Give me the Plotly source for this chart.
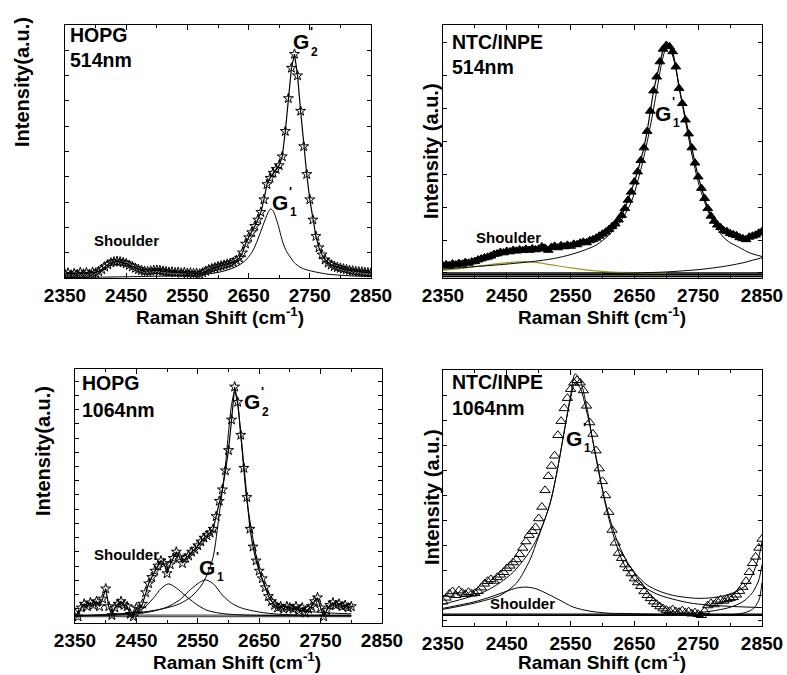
import plotly.graph_objects as go

W, H = 787, 675

# ---------------- Panel 1: HOPG 514 nm ----------------
hopg514_x = list(range(2350, 2851, 5))
hopg514_y = [1.5, 2.0, 1.2, 1.8, 1.4, 2.2, 1.6, 2.1, 1.5, 2.3,
             2.0, 2.6, 3.4, 4.4, 5.3, 6.0, 6.4, 6.6, 6.4, 6.1,
             5.7, 5.1, 4.5, 3.9, 3.4, 3.0, 2.7, 2.6, 2.8, 3.0,
             3.1, 3.0, 2.7, 2.5, 2.3, 2.4, 2.1, 2.3, 2.0, 2.2,
             1.9, 2.0, 1.8, 1.9, 1.6, 2.1, 2.7, 3.3, 3.7, 4.1,
             4.5, 4.8, 5.1, 5.5, 5.8, 6.2, 7.0, 7.9, 10.0, 13.5,
             16.0, 18.0, 20.5, 23.0, 26.0, 31.0, 37.0, 39.5, 41.5, 43.0,
             44.5, 48.0, 58.0, 71.0, 83.0, 88.5, 80.0, 66.0, 52.0, 41.0,
             31.0, 23.0, 16.5, 12.0, 9.2, 7.2, 6.0, 5.2, 4.6, 4.2,
             3.9, 3.6, 3.3, 3.0, 2.8, 2.6, 2.5, 2.4, 2.2, 2.1, 2.0]
hopg514_g1_x = [2350, 2400, 2450, 2500, 2550, 2580, 2600, 2620, 2635, 2645, 2655, 2663, 2670,
                2677, 2682, 2686, 2690, 2697, 2706, 2712, 2718, 2725, 2734, 2745, 2761, 2780,
                2800, 2820, 2850]
hopg514_g1_y = [0.2, 0.3, 0.5, 0.7, 1.0, 1.5, 2.2, 3.5, 5.2, 7.0, 10.0, 14.0, 18.5,
                23.0, 26.0, 27.3, 26.5, 22.0, 14.0, 10.5, 8.3, 6.0, 4.3, 3.2, 2.3, 1.5,
                1.1, 0.8, 0.6]

# ---------------- Panel 2: NTC/INPE 514 nm ----------------
ntc514_x = list(range(2350, 2851, 5))
ntc514_y = [4.8, 5.3, 5.0, 5.6, 5.2, 5.8, 5.5, 6.2, 5.9, 6.4,
            6.6, 7.2, 7.6, 8.0, 8.3, 8.7, 9.4, 9.6, 10.2, 10.0,
            10.6, 10.4, 11.0, 10.7, 11.2, 10.9, 11.4, 11.0, 11.6, 11.2,
            11.5, 12.4, 11.8, 11.0, 12.2, 12.6, 12.0, 12.8, 12.4, 13.0,
            12.6, 13.4, 13.2, 13.9, 14.2, 14.0, 14.8, 15.2, 15.8, 16.6,
            17.4, 18.2, 19.2, 20.4, 21.4, 23.0, 24.8, 27.5, 30.8, 34.0,
            38.0, 42.0, 46.5, 51.5, 58.0, 66.0, 74.0, 79.5, 85.5, 90.5,
            92.0, 91.5, 89.5, 83.5, 75.0, 69.0, 62.5, 57.0, 51.5, 45.5,
            40.0, 35.5, 31.5, 27.5, 24.5, 22.5, 21.0, 20.0, 18.8, 18.4,
            17.6, 17.2, 16.8, 16.0, 15.6, 15.2, 16.2, 16.6, 17.0, 17.8, 18.4]
ntc514_main_x = [2350, 2400, 2450, 2500, 2530, 2560, 2590, 2610, 2630, 2645, 2655, 2665, 2675,
                 2685, 2692, 2698, 2702, 2706, 2712, 2720, 2730, 2740, 2750, 2760, 2770, 2780,
                 2790, 2800, 2815, 2830, 2850]
ntc514_main_y = [3.5, 4.5, 5.5, 6.8, 8.0, 10.0, 13.0, 17.0, 23.0, 30.0, 38.0, 48.0, 60.0,
                 74.0, 84.0, 90.0, 91.5, 90.5, 86.0, 76.0, 62.0, 49.0, 38.0, 30.0, 24.0, 19.5,
                 16.0, 14.0, 12.0, 10.0, 8.5]
ntc514_sh_x = [2350, 2380, 2410, 2440, 2460, 2476, 2495, 2520, 2550, 2580, 2610, 2650, 2700]
ntc514_sh_y = [3.0, 3.8, 4.8, 5.8, 6.3, 6.5, 6.2, 5.2, 4.0, 3.0, 2.4, 2.1, 2.0]
ntc514_r_x = [2600, 2650, 2700, 2750, 2780, 2800, 2820, 2835, 2850]
ntc514_r_y = [1.8, 2.0, 2.4, 3.3, 4.2, 5.0, 6.0, 7.0, 8.0]
ntc514_base = [0.6, 1.3, 2.0]

# ---------------- Panel 3: HOPG 1064 nm ----------------
hopg1064_x = list(range(2350, 2801, 5))
hopg1064_y = [4.0, 2.5, 6.0, 7.5, 6.5, 8.0, 7.0, 8.5, 6.5, 9.5,
              13.5, 6.5, 3.0, 6.0, 7.5, 8.5, 7.0, 6.5, 3.5, 2.5,
              6.0, 5.5, 7.5, 12.0, 15.5, 18.0, 20.5, 22.5, 24.5, 23.5,
              19.5, 23.0, 25.5, 28.0, 26.0, 23.5, 25.5, 26.5, 28.0, 29.0,
              30.5, 32.0, 33.5, 34.5, 35.5, 37.0, 42.0, 48.0, 52.5, 60.0,
              68.0, 80.0, 93.0, 87.0, 74.0, 61.0, 49.5, 37.0, 30.0, 24.5,
              20.5, 17.5, 14.0, 10.5, 8.5, 7.0, 6.0, 6.5, 5.5, 6.5,
              6.0, 5.5, 6.5, 5.0, 6.0, 4.0, 5.5, 6.5, 8.5, 10.0,
              6.0, 2.5, 5.0, 7.0, 8.0, 7.0, 7.5, 6.5, 7.0, 6.0, 6.5]
hopg1064_main_x = [2350, 2400, 2450, 2480, 2500, 2520, 2540, 2555, 2565, 2575, 2585, 2595, 2600,
                   2605, 2610, 2615, 2620, 2625, 2630, 2640, 2650, 2660, 2670, 2685, 2700, 2730,
                   2760, 2800]
hopg1064_main_y = [2.8, 3.2, 4.0, 5.0, 6.0, 7.5, 10.5, 14.5, 19.0, 26.0, 43.0, 62.0, 75.0,
                   86.0, 91.0, 86.0, 74.0, 60.0, 48.0, 33.0, 21.0, 14.0, 10.0, 7.0, 5.7, 4.6,
                   4.0, 3.6]
hopg1064_sh_x = [2350, 2400, 2430, 2450, 2465, 2480, 2490, 2502, 2515, 2532, 2550, 2565, 2585,
                 2610, 2650, 2700, 2800]
hopg1064_sh_y = [2.9, 3.3, 3.8, 4.5, 6.5, 10.5, 13.5, 15.4, 13.8, 10.3, 7.0, 5.0, 3.9,
                 3.3, 3.0, 2.9, 2.8]
hopg1064_g1_x = [2350, 2400, 2450, 2480, 2500, 2520, 2535, 2550, 2562, 2575, 2590, 2605, 2620,
                 2650, 2680, 2720, 2800]
hopg1064_g1_y = [2.8, 3.0, 3.6, 4.8, 6.3, 9.0, 12.5, 15.5, 17.0, 15.5, 11.0, 7.8, 6.0,
                 4.3, 3.5, 3.1, 2.9]
hopg1064_base = [2.5, 3.1]

# ---------------- Panel 4: NTC/INPE 1064 nm ----------------
ntc1064_x = list(range(2350, 2851, 5))
ntc1064_y = [9.5, 11.0, 12.5, 13.5, 12.0, 13.8, 13.0, 12.4, 13.2, 12.6,
             12.8, 13.6, 15.0, 16.5, 17.5, 18.2, 17.6, 19.0, 20.0, 21.0,
             22.5, 23.5, 24.8, 26.0, 28.0, 30.5, 33.0, 35.5, 37.0, 38.5,
             42.0, 46.5, 53.0, 58.5, 62.5, 66.5, 74.5, 80.0, 85.0, 89.0,
             92.5, 95.0, 96.0, 95.0, 92.0, 86.0, 79.5, 75.0, 68.5, 61.5,
             56.5, 51.0, 44.5, 37.5, 32.5, 28.5, 26.5, 24.0, 22.5, 20.5,
             18.5, 17.0, 15.5, 13.5, 12.0, 10.8, 9.5, 8.5, 7.6, 6.8,
             6.2, 5.8, 6.4, 5.6, 5.4, 6.0, 5.2, 5.6, 4.8, 5.2,
             4.6, 4.2, 5.8, 8.0, 8.8, 8.4, 9.6, 10.2, 9.8, 10.4,
             10.8, 11.2, 12.2, 13.6, 15.2, 17.5, 21.0, 24.5, 27.0, 30.5, 34.0]
ntc1064_fit_x = [2350, 2380, 2400, 2420, 2440, 2460, 2480, 2495, 2510, 2520, 2530, 2540, 2550,
                 2557, 2565, 2575, 2585, 2595, 2605, 2615, 2625, 2640, 2655, 2670, 2690, 2710,
                 2730, 2750, 2770, 2790, 2810, 2825, 2835, 2845, 2850]
ntc1064_fit_y = [8.5, 10.5, 12.0, 14.0, 17.0, 21.0, 27.0, 33.0, 42.0, 50.0, 62.0, 76.0, 90.0,
                 98.5, 96.0, 86.0, 72.0, 59.0, 48.0, 39.0, 32.0, 24.5, 19.5, 16.0, 13.5, 12.0,
                 11.2, 10.8, 11.0, 11.8, 13.5, 16.0, 20.0, 27.0, 33.0]
ntc1064_main_x = [2350, 2400, 2440, 2465, 2486, 2500, 2518, 2530, 2540, 2550, 2557, 2565, 2575,
                  2590, 2605, 2620, 2632, 2650, 2685, 2737, 2790, 2850]
ntc1064_main_y = [6.5, 9.0, 12.0, 16.7, 25.7, 35.0, 48.0, 62.0, 76.0, 89.0, 95.0, 93.0, 84.0,
                  66.0, 47.0, 33.0, 25.0, 18.0, 12.5, 9.0, 7.8, 7.2]
ntc1064_sh_x = [2350, 2400, 2424, 2450, 2465, 2480, 2495, 2510, 2530, 2554, 2580, 2610, 2632,
                2680, 2750, 2850]
ntc1064_sh_y = [6.9, 9.5, 11.3, 13.6, 14.8, 15.2, 14.6, 13.0, 10.5, 7.4, 5.8, 5.0, 4.9,
                4.6, 4.4, 4.3]
ntc1064_r1_x = [2650, 2700, 2750, 2780, 2800, 2820, 2835, 2845, 2850]
ntc1064_r1_y = [4.3, 4.6, 5.2, 6.2, 7.3, 9.5, 13.0, 18.0, 24.0]
ntc1064_r2_x = [2750, 2800, 2820, 2835, 2845, 2850]
ntc1064_r2_y = [4.2, 4.4, 5.0, 6.5, 10.0, 17.0]
ntc1064_base = [4.2, 4.6]

x_ticks = [2350, 2450, 2550, 2650, 2750, 2850]
x_tick_text = ["<b>2350</b>", "<b>2450</b>", "<b>2550</b>", "<b>2650</b>", "<b>2750</b>", "<b>2850</b>"]
x_minor = [2400, 2500, 2600, 2700, 2800]

fig = go.Figure()

def line(x, y, ax, color="black", width=1.0):
    fig.add_trace(go.Scatter(x=x, y=y, mode="lines", xaxis="x" + ax, yaxis="y" + ax,
                             line=dict(color=color, width=width, shape="spline", smoothing=0.8),
                             showlegend=False, hoverinfo="skip"))

def flat(level, x0, x1, ax, color="black", width=1.2):
    fig.add_trace(go.Scatter(x=[x0, x1], y=[level, level], mode="lines", xaxis="x" + ax,
                             yaxis="y" + ax, line=dict(color=color, width=width),
                             showlegend=False, hoverinfo="skip"))

def data(x, y, ax, symbol, size, lines=True):
    fig.add_trace(go.Scatter(x=x, y=y, mode="lines+markers" if lines else "markers",
                             xaxis="x" + ax, yaxis="y" + ax,
                             line=dict(color="black", width=1.2),
                             marker=dict(symbol=symbol, size=size, color="black",
                                         line=dict(width=1, color="black")),
                             showlegend=False))

# Panel 1
line(hopg514_g1_x, hopg514_g1_y, "")
data(hopg514_x, hopg514_y, "", "star-open", 7.5)
# Panel 2
for b in ntc514_base:
    flat(b, 2350, 2850, "2", width=1.6)
line(ntc514_sh_x, ntc514_sh_y, "2", color="#9c9c1c", width=1.2)
line(ntc514_r_x, ntc514_r_y, "2")
line(ntc514_main_x, ntc514_main_y, "2")
data(ntc514_x, ntc514_y, "2", "triangle-up", 8.5)
# Panel 3
for b in hopg1064_base:
    flat(b, 2350, 2800, "3", color="#555555", width=1.2)
line(hopg1064_sh_x, hopg1064_sh_y, "3")
line(hopg1064_g1_x, hopg1064_g1_y, "3")
line(hopg1064_main_x, hopg1064_main_y, "3")
data(hopg1064_x, hopg1064_y, "3", "star-open", 7.5)
# Panel 4
for b in ntc1064_base:
    flat(b, 2350, 2850, "4", width=1.3)
line(ntc1064_sh_x, ntc1064_sh_y, "4")
line(ntc1064_r1_x, ntc1064_r1_y, "4")
line(ntc1064_r2_x, ntc1064_r2_y, "4")
line(ntc1064_main_x, ntc1064_main_y, "4")
line(ntc1064_fit_x, ntc1064_fit_y, "4")
data(ntc1064_x, ntc1064_y, "4", "triangle-up-open", 9, lines=False)

def dx(a, b):
    return [a / W, b / W]

def dy(top, bottom):
    return [1 - bottom / H, 1 - top / H]

tickfont = dict(family="Arial", size=19, color="black")

def xaxis(dom, anchor):
    return dict(domain=dom, anchor=anchor, range=[2350, 2850], tickmode="array",
                tickvals=x_ticks, ticktext=x_tick_text, ticks="inside", ticklen=5,
                tickcolor="black", showline=True, linecolor="black", linewidth=1,
                mirror="ticks", showgrid=False, zeroline=False, tickfont=tickfont,
                automargin=False,
                minor=dict(tickmode="array", tickvals=x_minor, ticks="inside", ticklen=3,
                           tickcolor="black", showgrid=False))

def yaxis(dom, anchor, t0, dt):
    return dict(domain=dom, anchor=anchor, range=[0, 100], tick0=t0, dtick=dt,
                ticks="inside", ticklen=4, tickcolor="black", showticklabels=False,
                showline=True, linecolor="black", linewidth=1, mirror="ticks",
                showgrid=False, zeroline=False, automargin=False)

fig.update_layout(
    width=W, height=H, margin=dict(l=0, r=0, t=0, b=0, autoexpand=False),
    paper_bgcolor="white", plot_bgcolor="white",
    xaxis=xaxis(dx(65, 371), "y"), yaxis=yaxis(dy(25, 278), "x", 0, 10),
    xaxis2=xaxis(dx(443, 762), "y2"), yaxis2=yaxis(dy(25, 278), "x2", 2, 13),
    xaxis3=xaxis(dx(75, 382), "y3"), yaxis3=yaxis(dy(369, 623), "x3", 0, 5.6),
    xaxis4=xaxis(dx(443, 762), "y4"), yaxis4=yaxis(dy(370, 626), "x4", 2, 9.8),
)

def note(text, px, py, size, xanchor="center", angle=0):
    fig.add_annotation(text="<b>" + text + "</b>", x=px / W, y=1 - py / H,
                       xref="paper", yref="paper", showarrow=False, xanchor=xanchor,
                       yanchor="middle", textangle=angle,
                       font=dict(family="Arial", size=size, color="black"))

# sample labels
note("HOPG", 68, 35, 19.5, "left"); note("514nm", 68, 60, 19.5, "left")
note("NTC/INPE", 450, 42, 19.5, "left"); note("514nm", 450, 67, 19.5, "left")
note("HOPG", 80, 383, 19.5, "left"); note("1064nm", 80, 410, 19.5, "left")
note("NTC/INPE", 450, 382, 19.5, "left"); note("1064nm", 450, 408, 19.5, "left")

# shoulder labels
note("Shoulder", 126, 240, 15); note("Shoulder", 508, 237, 15)
note("Shoulder", 126, 554, 15); note("Shoulder", 522, 603, 15)

# G' labels
def glabel(gx, gy, sub):
    note("G", gx, gy, 21)
    note("'", gx + 10, gy - 11, 13)
    note(sub, gx + 13, gy + 10, 12)

glabel(301, 42, "2")
glabel(280, 202, "1")
glabel(663, 113, "1")
glabel(252, 402, "2")
glabel(207, 567, "1")
glabel(574, 438, "1")

# axis titles
xt = "Raman Shift (cm<sup>-1</sup>)"
note(xt, 220, 316, 19); note(xt, 602, 316, 19)
note(xt, 237, 661, 19); note(xt, 602, 661, 19)
note("Intensity(a.u.)", 22, 82, 20, angle=-90)
note("Intensity (a.u.)", 431, 151, 20, angle=-90)
note("Intensity(a.u.)", 43, 451, 20, angle=-90)
note("Intensity (a.u.)", 432, 497, 20, angle=-90)

fig.write_html("out.html")
